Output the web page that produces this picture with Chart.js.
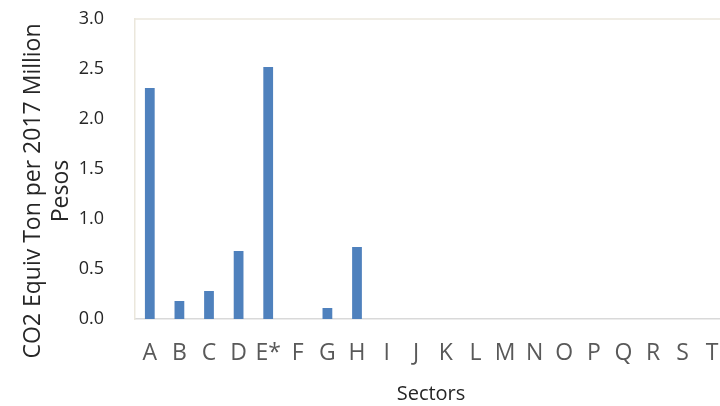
<!DOCTYPE html>
<html>
<head>
<meta charset="utf-8">
<style>
  html, body { margin: 0; padding: 0; background: #ffffff; overflow: hidden; }
  #wrap { width: 727px; height: 406px; position: relative; }
</style>
<script src="https://cdn.jsdelivr.net/npm/chart.js@4/dist/chart.umd.min.js"></script>
</head>
<body>
<div id="wrap"><canvas id="chart"></canvas></div>
<script>
// Emission intensity by economic sector
const sectors = ['A', 'B', 'C', 'D', 'E*', 'F', 'G', 'H', 'I', 'J', 'K', 'L', 'M', 'N', 'O', 'P', 'Q', 'R', 'S', 'T'];
const intensity = [2.31, 0.18, 0.28, 0.68, 2.52, 0, 0.11, 0.72, 0, 0, 0, 0, 0, 0, 0, 0, 0, 0, 0, 0];
const yTitleLines = ['CO2 Equiv Ton per 2017 Million', 'Pesos'];
const xTitle = 'Sectors';

const FONT = "'Open Sans', 'Noto Sans', sans-serif";

// Light frame on the top of the plot area
const frame = {
  id: 'frame',
  beforeDatasetsDraw(chart) {
    const { ctx, chartArea: a } = chart;
    ctx.save();
    ctx.strokeStyle = '#ebe7dc';
    ctx.lineWidth = 1.5;
    ctx.beginPath();
    ctx.moveTo(a.left, a.top);
    ctx.lineTo(a.right, a.top);
    ctx.stroke();
    ctx.restore();
  }
};

// Two-line rotated title for the value axis
const yTitle = {
  id: 'yTitle',
  afterDraw(chart) {
    const { ctx } = chart;
    ctx.save();
    ctx.fillStyle = '#262626';
    ctx.font = '23px ' + FONT;
    ctx.textAlign = 'center';
    ctx.textBaseline = 'alphabetic';
    const baselines = [40, 68];
    yTitleLines.forEach((line, i) => {
      ctx.save();
      ctx.translate(baselines[i], 191);
      ctx.rotate(-Math.PI / 2);
      ctx.fillText(line, 0, 0);
      ctx.restore();
    });
    ctx.restore();
  }
};

new Chart(document.getElementById('chart'), {
  type: 'bar',
  data: {
    labels: sectors,
    datasets: [{
      data: intensity,
      backgroundColor: '#4f81bd',
      categoryPercentage: 0.33,
      barPercentage: 1
    }]
  },
  options: {
    responsive: true,
    maintainAspectRatio: false,
    animation: false,
    layout: { padding: { top: 19, right: 0, bottom: 0, left: 0 } },
    plugins: {
      legend: { display: false },
      tooltip: { enabled: false }
    },
    scales: {
      x: {
        afterFit(scale) {
          scale.height = 87;
          scale.paddingLeft = 0;
          scale.paddingRight = 0;
        },
        grid: { display: false, drawTicks: false },
        border: { display: true, color: '#d9d9d9', width: 1.5 },
        ticks: {
          color: '#595959',
          font: { family: FONT, size: 23 },
          padding: 21,
          maxRotation: 0,
          autoSkip: false
        },
        title: {
          display: true,
          text: xTitle,
          color: '#262626',
          font: { family: FONT, size: 20 },
          padding: { top: 8, bottom: 0 }
        }
      },
      y: {
        min: 0,
        max: 3,
        afterFit(scale) {
          scale.width = 135;
          scale.paddingTop = 0;
          scale.paddingBottom = 0;
        },
        grid: { display: false, drawTicks: false },
        border: { display: true, color: '#ebe7dc', width: 1.5 },
        ticks: {
          stepSize: 0.5,
          color: '#262626',
          font: { family: FONT, size: 18 },
          padding: 31,
          callback: (v) => Number(v).toFixed(1)
        }
      }
    }
  },
  plugins: [frame, yTitle]
});
</script>
</body>
</html>
